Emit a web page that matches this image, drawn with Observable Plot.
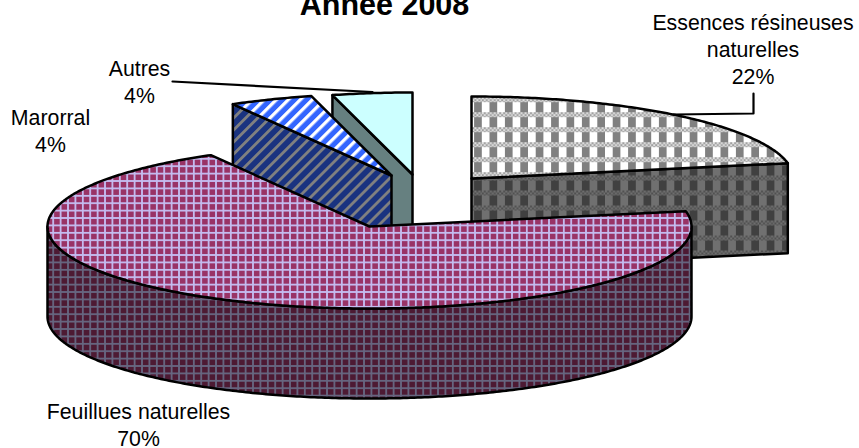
<!DOCTYPE html>
<html><head><meta charset="utf-8">
<style>html,body{margin:0;padding:0;background:#fff}svg{display:block}</style>
<script src="https://cdn.jsdelivr.net/npm/d3@7"></script>
<script src="https://cdn.jsdelivr.net/npm/@observablehq/plot@0.6"></script>
</head><body>
<script>
// Data
const categories = ["Essences résineuses naturelles", "Feuillues naturelles", "Marorral", "Autres"];
const shares = [22, 69.8, 4.2, 4];
const labelLines = ["Essences résineuses\nnaturelles\n22%", "Feuillues naturelles\n70%", "Marorral\n4%", "Autres\n4%"];
const titleText = "Année 2008";

// Layout of the exploded 3-D pie
const W = 859, H = 448, RX = 322, RY = 82, DEPTH = 90;
const sliceCentres = [[471, 178], [369, 226], [391, 175], [412, 174]];
const labelAnchors = [[752.5, 47.7], [138, 423.3], [50, 129], [139, 80]];
const topFills = ["url(#pTopE)", "url(#pTopF)", "url(#pTopM)", "#CCFFFF"];
const sideFills = ["url(#pSideE)", "url(#pSideF)", "url(#pSideM)", "#668080"];

const total = d3.sum(shares);
let acc = 0;
const sectors = shares.map((s, i) => {
  const a0 = acc / total * 2 * Math.PI;
  acc += s;
  return {i, a0, a1: acc / total * 2 * Math.PI, c: sliceCentres[i]};
});
const P = (c, a, dz = 0) => ({x: c[0] + RX * Math.sin(a), y: c[1] - RY * Math.cos(a) + dz});
const arc = (c, a0, a1, dz = 0) => {
  const n = Math.max(2, Math.ceil(Math.abs(a1 - a0) * 90));
  return d3.range(n + 1).map(k => P(c, a0 + (a1 - a0) * k / n, dz));
};
const topFace = s => [{x: s.c[0], y: s.c[1]}, ...arc(s.c, s.a0, s.a1)];
const cutFace = (c, a) => [{x: c[0], y: c[1]}, P(c, a), P(c, a, DEPTH), {x: c[0], y: c[1] + DEPTH}];
const wall = (c, a0, a1) => [...arc(c, a0, a1), ...arc(c, a1, a0, DEPTH)];

const face = (pts, fill) => Plot.line(pts, {
  x: "x", y: "y", fill, stroke: "#000", strokeWidth: 2.5, curve: "linear-closed",
  strokeLinejoin: "round", strokeLinecap: "round"
});
const [sE, sF, sM, sA] = sectors;
const leader = pts => Plot.line(pts, {x: "x", y: "y", stroke: "#000", strokeWidth: 2.2, curve: "linear"});

const leaderAutres = [{x: 172, y: 81}, {x: 372, y: 91.5}];
const leaderEssences = [{x: 753, y: 93}, {x: 753, y: 113}, {x: 673, y: 114}];

const chart = Plot.plot({
  width: W, height: H, margin: 0,
  x: {domain: [0, W], range: [0, W], axis: null},
  y: {domain: [0, H], range: [0, H], axis: null},
  style: {fontFamily: "'Liberation Sans', Arial, sans-serif", background: "#fff"},
  marks: [
    face(cutFace(sA.c, sA.a0), sideFills[3]),
    face(topFace(sA), topFills[3]),
    face(cutFace(sM.c, sM.a0), sideFills[2]),
    face(topFace(sM), topFills[2]),
    face(cutFace(sE.c, sE.a1), sideFills[0]),
    face(topFace(sE), topFills[0]),
    face(wall(sF.c, Math.PI / 2, 3 * Math.PI / 2), sideFills[1]),
    face(topFace(sF), topFills[1]),
    leader(leaderAutres),
    leader(leaderEssences),
    Plot.text(labelLines, {
      x: (d, i) => labelAnchors[i][0], y: (d, i) => labelAnchors[i][1],
      text: d => d, fontSize: 21.3, lineHeight: 1.29, textAnchor: "middle", fill: "#000"
    }),
    Plot.text([titleText], {
      x: () => 384, y: () => 5, text: d => d, fontSize: 30.5, fontWeight: "bold", textAnchor: "middle", fill: "#000"
    })
  ]
});

// Hatch patterns
const checker = (x, y, w, h, a, b) => {
  let s = `<rect x="${x}" y="${y}" width="${w}" height="${h}" fill="${a}"/>`;
  for (let j = 0; j < h; j += 2) for (let k = (j / 2) % 2 * 2; k < w; k += 4)
    s += `<rect x="${x + k}" y="${y + j}" width="2" height="2" fill="${b}"/>`;
  return s;
};
const defs = document.createElementNS("http://www.w3.org/2000/svg", "defs");
defs.innerHTML = `
<pattern id="pTopF" patternUnits="userSpaceOnUse" width="7.4" height="7.4" x="0" y="2">
  <rect width="7.4" height="7.4" fill="#993366"/>
  <rect width="1.8" height="7.4" fill="#C4BCF0"/><rect width="7.4" height="1.8" fill="#C4BCF0"/></pattern>
<pattern id="pSideF" patternUnits="userSpaceOnUse" width="7.4" height="7.4" x="0" y="2">
  <rect width="7.4" height="7.4" fill="#4D1A33"/>
  <rect width="1.8" height="7.4" fill="#666680"/><rect width="7.4" height="1.8" fill="#666680"/></pattern>
<pattern id="pTopM" patternUnits="userSpaceOnUse" width="8.5" height="8.5" patternTransform="rotate(45)">
  <rect width="8.5" height="8.5" fill="#3366FF"/><rect width="3.3" height="8.5" fill="#fff"/></pattern>
<pattern id="pSideM" patternUnits="userSpaceOnUse" width="8.5" height="8.5" patternTransform="rotate(45)">
  <rect width="8.5" height="8.5" fill="#1A3380"/><rect width="2.8" height="8.5" fill="#808080"/></pattern>
<pattern id="pTopE" patternUnits="userSpaceOnUse" width="15.4" height="15" x="3.9" y="11.7">
  <rect width="15.4" height="15" fill="#fff"/>
  <rect x="7.7" y="0" width="7.7" height="10" fill="#808080"/>
  ${checker(0, 10, 15.4, 5, "#a0a0a0", "#e0e0e0")}</pattern>
<pattern id="pSideE" patternUnits="userSpaceOnUse" width="15.4" height="15" x="3.9" y="0">
  <rect width="15.4" height="15" fill="#707070"/>
  <rect x="7.7" y="0" width="7.7" height="10" fill="#404040"/>
  ${checker(0, 10, 15.4, 5, "#505050", "#707070")}</pattern>`;
chart.insertBefore(defs, chart.firstChild);
document.body.appendChild(chart);
</script>
</body></html>
